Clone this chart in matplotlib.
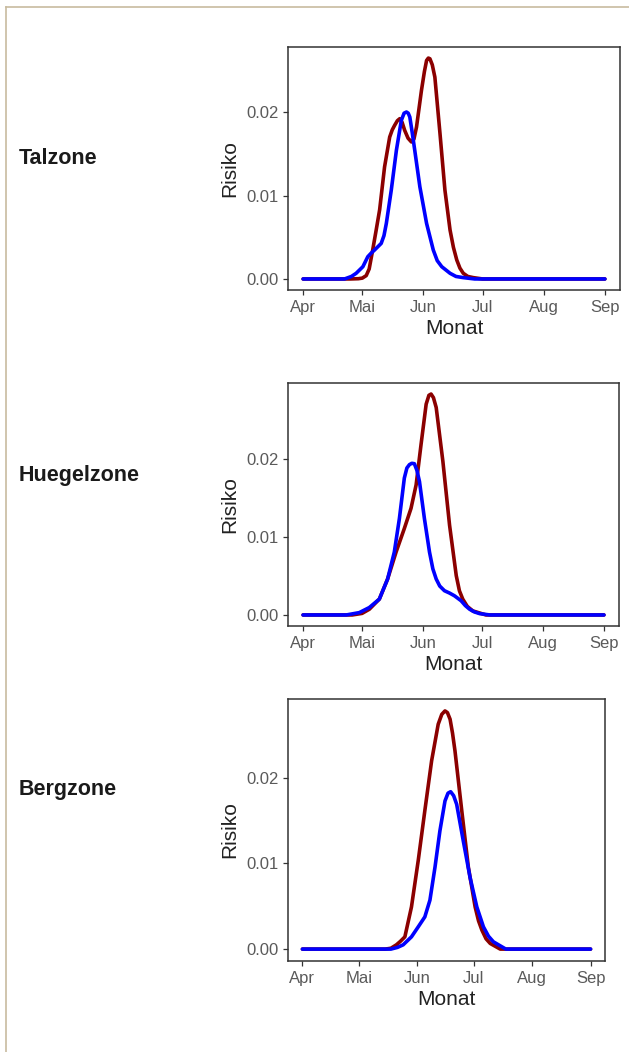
import matplotlib
matplotlib.use('Agg')
import matplotlib.pyplot as plt
from matplotlib.lines import Line2D

plt.rcParams['font.family'] = ['Liberation Sans', 'DejaVu Sans']

# month ticks as day of year (1st of month)
month_days = [91, 121, 152, 182, 213, 244]
month_labels = ['Apr', 'Mai', 'Jun', 'Jul', 'Aug', 'Sep']
y_ticks = [0.0, 0.01, 0.02]
y_labels = ['0.00', '0.01', '0.02']

zones = ['Talzone', 'Huegelzone', 'Bergzone']

# Talzone
tal_red_day = [91, 115, 119, 121, 123, 124.5, 126.3, 128, 129.8, 132.3, 134.9, 136.2, 137.4, 138.8, 140,
               141.2, 142.5, 144.2, 145.9, 147.2, 148.5, 151, 152.5, 153.6, 154.5, 155.3, 156.5, 157.8,
               160.4, 162.9, 165.5, 167.2, 168.9, 170.5, 172.2, 174.5, 177.3, 182, 244]
tal_red_val = [0, 0, 0.00003, 0.0001, 0.0004, 0.0012, 0.0035, 0.0058, 0.0083, 0.01345, 0.01704, 0.0179, 0.01844,
               0.0190, 0.01924, 0.0188, 0.01784, 0.0169, 0.01645, 0.0168, 0.01824, 0.02263, 0.0249, 0.02623,
               0.02652, 0.02643, 0.0257, 0.02423, 0.01745, 0.01066, 0.00587, 0.0038, 0.00228, 0.0013, 0.00068,
               0.0003, 0.00016, 0, 0]
tal_blue_day = [91, 112, 115.5, 117.9, 121.3, 123.8, 125.5, 127.2, 130.6, 132, 133.2, 135.7, 138.3, 140.8,
                142.2, 143.4, 144.3, 145.1, 146.3, 147.6, 150.2, 153.6, 157, 159, 161.3, 165.5, 168.5, 172.2,
                178, 244]
tal_blue_val = [0, 0, 0.0003, 0.00068, 0.00147, 0.00267, 0.0031, 0.00347, 0.00427, 0.0052, 0.00667, 0.01066,
                0.01545, 0.01904, 0.0199, 0.02004, 0.0199, 0.01944, 0.0176, 0.01545, 0.01106, 0.00667, 0.00347,
                0.0022, 0.00147, 0.00068, 0.0003, 0.00016, 0, 0]

# Huegelzone
hue_red_day = [91, 116, 121, 124.7, 129.8, 134, 138.3, 142.5, 145.9, 148.5, 151, 153.6, 155, 156.1,
               157.3, 158.7, 162.1, 165.5, 168.9, 170.5, 172.2, 174.5, 177.3, 184, 244]
hue_red_val = [0, 0, 0.0002, 0.00073, 0.00203, 0.0046, 0.00804, 0.01106, 0.01364, 0.01665, 0.02181, 0.02697,
               0.0281, 0.02826, 0.0278, 0.02654, 0.01965, 0.01148, 0.00503, 0.0031, 0.00203, 0.0011, 0.00052,
               0, 0]
hue_blue_day = [91, 113, 119.6, 124.7, 129.8, 134, 137.4, 140, 142.5, 143.8, 145.1, 146.3, 147.6, 148.9,
                150.2, 152.7, 155.3, 157, 158.7, 160.5, 162.9, 165.5, 168, 171.4, 173.5, 175.7, 178, 180.8,
                186, 244]
hue_blue_val = [0, 0, 0.0003, 0.00095, 0.00203, 0.0046, 0.00804, 0.01235, 0.01751, 0.0188, 0.01923, 0.0194,
                0.01935, 0.0185, 0.01707, 0.01235, 0.00804, 0.0059, 0.0046, 0.0037, 0.0031, 0.0028, 0.00245,
                0.00181, 0.0012, 0.00073, 0.0004, 0.00017, 0, 0]

# Bergzone
berg_red_day = [91, 135, 138, 140.9, 143, 145.4, 148.9, 152.5, 156, 159.6, 163.1, 165, 166.7, 168, 169.4,
                170.7, 172, 175.6, 179.1, 182.7, 184.5, 186.3, 188.5, 190.7, 196, 244]
berg_red_val = [0, 0, 0.0001, 0.0005, 0.0009, 0.00143, 0.00492, 0.01035, 0.01616, 0.02198, 0.02625, 0.0274,
                0.0278, 0.0276, 0.02683, 0.0252, 0.02314, 0.01616, 0.00957, 0.00492, 0.0033, 0.00221, 0.0012,
                0.00066, 0, 0]
berg_blue_day = [91, 138, 141.5, 144.5, 148.9, 152.5, 156, 158.7, 161.4, 164, 166.7, 168.3, 169.7, 171.3,
                 172.9, 176.4, 180, 183.6, 187.1, 189.8, 192.4, 199, 244]
berg_blue_val = [0, 0, 0.0002, 0.0005, 0.00143, 0.0026, 0.00376, 0.00571, 0.00957, 0.0138, 0.01729, 0.0182,
                 0.01837, 0.0179, 0.0169, 0.01264, 0.00837, 0.00492, 0.0026, 0.0015, 0.00085, 0, 0]

series = [
    (tal_red_day, tal_red_val, tal_blue_day, tal_blue_val),
    (hue_red_day, hue_red_val, hue_blue_day, hue_blue_val),
    (berg_red_day, berg_red_val, berg_blue_day, berg_blue_val),
]

# axes boxes in pixels: left, top, right, bottom
boxes = [(288, 47, 620, 290), (288, 383, 619, 626), (288, 699, 605, 961)]
label_y = [159, 475, 790]

W, H = 629, 1052
fig = plt.figure(figsize=(W / 100, H / 100), dpi=100)

for zone, (rd, rv, bd, bv), (l, t, r, b), ly in zip(zones, series, boxes, label_y):
    ax = fig.add_axes([l / W, 1 - b / H, (r - l) / W, (b - t) / H])
    ax.plot(rd, rv, color='#8B0000', lw=2.6, solid_capstyle='round', solid_joinstyle='round')
    ax.plot(bd, bv, color='#0000FF', lw=2.6, solid_capstyle='round', solid_joinstyle='round')
    ax.margins(x=0.05, y=0.05)
    ax.set_xticks(month_days)
    ax.set_xticklabels(month_labels)
    ax.set_yticks(y_ticks)
    ax.set_yticklabels(y_labels)
    ax.tick_params(axis='both', direction='out', length=3.5, width=0.9,
                   color='#333333', labelcolor='#5a5a5a', labelsize=12, pad=3.5)
    for s in ax.spines.values():
        s.set_color('#333333')
        s.set_linewidth(1.1)
    ax.set_xlabel('Monat', fontsize=15, color='#222222', labelpad=3)
    ax.set_ylabel('Risiko', fontsize=15, color='#222222', labelpad=5)
    fig.text(19 / W, 1 - ly / H, zone, fontsize=15.5, fontweight='bold',
             color='#1a1a1a', va='center', ha='left')

# thin frame lines at top and left
fig.add_artist(Line2D([6 / W, 1], [1 - 6.5 / H, 1 - 6.5 / H], color='#C8BB9F', lw=1.2))
fig.add_artist(Line2D([5.5 / W, 5.5 / W], [0, 1 - 6.5 / H], color='#C8BB9F', lw=1.2))

fig.savefig('out.png', dpi=100, facecolor='white')
